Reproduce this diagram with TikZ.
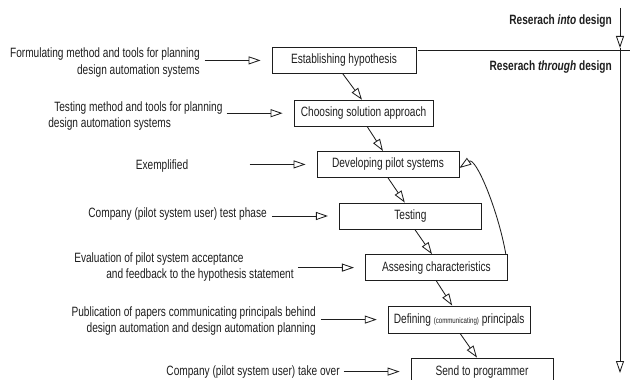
\documentclass[tikz,border=0pt]{standalone}
\usepackage{fontspec}
\setmainfont{Liberation Sans}[FakeStretch=0.75]
\usetikzlibrary{arrows.meta}
\definecolor{ink}{HTML}{1E1E1E}
\newcommand{\diagfont}{\fontsize{9.6}{12}\selectfont}
\newcommand{\minifont}{\fontsize{5.8}{6}\selectfont}
\tikzset{
  stepbox/.style  ={draw=ink, line width=0.6pt, text=ink,
                    minimum width=3.55cm, minimum height=0.65cm,
                    inner sep=2pt, align=center, font=\diagfont},
  sidelabel/.style={inner sep=0pt, text=ink, font=\diagfont},
  reslabel/.style ={inner sep=0pt, anchor=east, text=ink, font=\diagfont\bfseries},
  openarr/.style  ={-{Triangle[open,length=0.3cm,width=0.2cm]}, line width=0.6pt, draw=ink},
  inarr/.style    ={openarr, shorten >=0.275cm},
}
\begin{document}
\begin{tikzpicture}[x=1cm,y=1cm]
    \useasboundingbox (0,0) rectangle (15.75,-9.5);
    % steps of the process
    \node[stepbox,minimum width=3.6cm] (est) at (8.6,-1.51) {Establishing hypothesis};
    \node[stepbox,minimum width=3.48cm] (cho) at (9.09,-2.83) {Choosing solution approach};
    \node[stepbox] (dev) at (9.7,-4.11) {Developing pilot systems};
    \node[stepbox] (tst) at (10.26,-5.4) {Testing};
    \node[stepbox] (ass) at (10.91,-6.69) {Assesing characteristics};
    \node[stepbox,minimum height=0.68cm] (def) at (11.48,-7.99) {Defining {\minifont(communicating)} principals};
    \node[stepbox,minimum height=0.68cm] (snd) at (12.05,-9.29) {Send to programmer};

    % side labels
    \node[sidelabel,anchor=east,align=right] (formul) at (5.0,-1.56)
      {Formulating method and tools for planning\\design automation systems};
    \node[sidelabel,anchor=west,align=left] (testmeth) at (1.2,-2.9)
      {\hspace*{0.15cm}Testing method and tools for planning\\design automation systems};
    \node[sidelabel] (exempl) at (4.05,-4.15) {Exemplified};
    \node[sidelabel,anchor=east] (testph) at (6.675,-5.35) {Company (pilot system user) test phase};
    \node[sidelabel,anchor=west,align=left] (evalu) at (1.85,-6.675)
      {Evaluation of pilot system acceptance\\\hspace*{0.8cm}and feedback to the hypothesis statement};
    \node[sidelabel,anchor=east,align=right] (publ) at (7.9,-8.025)
      {Publication of papers communicating principals behind\\design automation and design automation planning};
    \node[sidelabel,anchor=east] (takeov) at (8.5,-9.3) {Company (pilot system user) take over};

    \draw[inarr] ([xshift=-1.675cm]est.west) -- (est.west);
    \draw[inarr] ([xshift=-1.675cm]cho.west) -- (cho.west);
    \draw[inarr] ([xshift=-1.675cm]dev.west) -- (dev.west);
    \draw[inarr] ([xshift=-1.675cm]tst.west) -- (tst.west);
    \draw[inarr] ([xshift=-1.675cm]ass.west) -- (ass.west);
    \draw[inarr] ([xshift=-1.675cm]def.west) -- (def.west);
    \draw[inarr] ([xshift=-1.675cm]snd.west) -- (snd.west);

    % step to step
    \draw[openarr] ([xshift=-0.03cm]est.south) -- ([xshift=-0.04cm]cho.north);
    \draw[openarr] ([xshift=0.09cm]cho.south) -- ([xshift=-0.125cm]dev.north);
    \draw[openarr] (dev.south) -- ([xshift=-0.14cm]tst.north);
    \draw[openarr] ([xshift=0.11cm]tst.south) -- ([xshift=-0.11cm]ass.north);
    \draw[openarr] (ass.south) -- ([xshift=-0.175cm]def.north);
    \draw[openarr] ([xshift=0.025cm]def.south) -- ([xshift=-0.125cm]snd.north);
    \draw[openarr] ([xshift=-0.05cm]ass.north east)
      .. controls +(100:1.125) and +(35:0.5) .. ([yshift=-0.09cm]dev.east);

    % research axis
    \coordinate (axtop) at (15.5,-0.2);
    \coordinate (axmid) at (15.5,-1.2);
    \coordinate (axbot) at (15.5,-9.325);
    \coordinate (divl) at (10.45,-1.25);
    \coordinate (divr) at (15.75,-1.25);
    \draw[openarr] (axtop) -- (axmid);
    \draw[openarr] (axmid) -- (axbot);
    \draw[draw=ink,line width=0.6pt] (divl) -- (divr);
    \node[reslabel] (into) at (15.3,-0.525) {Reserach \textit{into} design};
    \node[reslabel] (through) at (15.3,-1.675) {Reserach \textit{through} design};
  \end{tikzpicture}
\end{document}
